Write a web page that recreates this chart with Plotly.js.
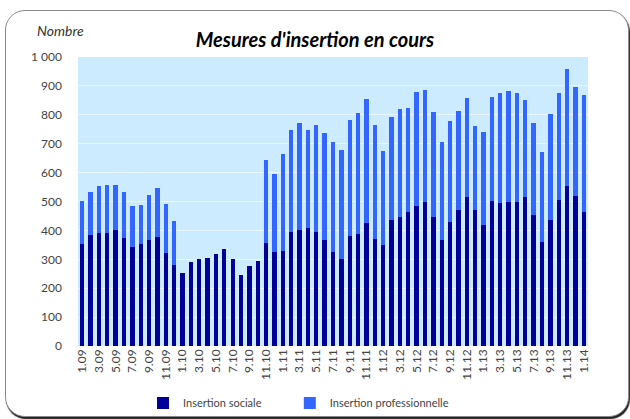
<!DOCTYPE html>
<html>
<head>
<meta charset="utf-8">
<script src="https://cdn.plot.ly/plotly-3.0.1.min.js"></script>
<style>
html,body{margin:0;padding:0;background:#fff;overflow:hidden;}
#frame{position:absolute;left:5px;top:10px;width:622px;height:405px;border:1px solid #8a8a8a;border-radius:20px;box-shadow:1px 2px 1px #222;background:#fff;}
#chart{position:absolute;left:0;top:0;width:630px;height:419px;}
</style>
</head>
<body>
<div id="frame"></div>
<div id="chart"></div>
<script>
const months = ["1.09","2.09","3.09","4.09","5.09","6.09","7.09","8.09","9.09","10.09","11.09","12.09",
"1.10","2.10","3.10","4.10","5.10","6.10","7.10","8.10","9.10","10.10","11.10","12.10",
"1.11","2.11","3.11","4.11","5.11","6.11","7.11","8.11","9.11","10.11","11.11","12.11",
"1.12","2.12","3.12","4.12","5.12","6.12","7.12","8.12","9.12","10.12","11.12","12.12",
"1.13","2.13","3.13","4.13","5.13","6.13","7.13","8.13","9.13","10.13","11.13","12.13",
"1.14"];
const tickLabels = ["1.09","3.09","5.09","7.09","9.09","11.09","1.10","3.10","5.10","7.10","9.10","11.10",
"1.11","3.11","5.11","7.11","9.11","11.11","1.12","3.12","5.12","7.12","9.12","11.12",
"1.13","3.13","5.13","7.13","9.13","11.13","1.14"];
const sociale = [352,384,392,392,401,375,343,354,367,378,323,281,
252,292,300,304,319,335,301,247,277,293,
356,324,330,393,400,410,396,367,327,301,382,
389,425,371,350,437,448,462,486,500,448,367,428,469,515,472,
420,502,496,500,500,514,455,361,437,506,555,518,464];
const professionnelle = [150,148,161,165,156,158,142,134,155,169,169,152,
0,0,0,0,0,0,0,0,0,0,
287,272,335,355,372,338,369,371,378,376,401,
416,431,394,325,356,373,362,394,386,360,338,351,345,344,290,
319,359,379,382,377,338,317,309,367,371,404,377,405];
const yTicks = [0,100,200,300,400,500,600,700,800,900,1000];

const FONT = "Lato, 'Open Sans', sans-serif";
const traces = [
  {type:'bar', name:'Insertion sociale', x:months, y:sociale, marker:{color:'#000099'}, legend:'legend'},
  {type:'bar', name:'Insertion professionnelle', x:months, y:professionnelle, marker:{color:'#3366FF'}, legend:'legend2'}
];
const legendBase = {orientation:'h', xref:'container', yref:'container', xanchor:'left', y:0.038, yanchor:'middle',
    font:{size:11, color:'#444'}, itemwidth:30, bgcolor:'rgba(0,0,0,0)'};
const layout = {
  width:630, height:419,
  margin:{l:78, r:42, t:57, b:73, pad:0},
  paper_bgcolor:'rgba(0,0,0,0)',
  plot_bgcolor:'#CCEBFF',
  barmode:'stack',
  bargap:0.48,
  separators:', ',
  font:{family:FONT, color:'#333', size:12},
  title:{text:"<b><i>Mesures d'insertion en cours</i></b>", x:0.5, xanchor:'center', y:0.905, yanchor:'middle', font:{family:FONT, size:20, color:'#000'}},
  xaxis:{type:'category', tickmode:'array', tickvals:tickLabels, ticktext:tickLabels, tickangle:-90,
    showgrid:false, ticks:'', showline:false, tickfont:{size:12, color:'#444'}, automargin:false},
  yaxis:{range:[0,1000], tickmode:'array', tickvals:yTicks, tickformat:',d', showgrid:true,
    gridcolor:'rgba(255,255,255,0.55)', gridwidth:1, zeroline:false, ticks:'', ticklabelstandoff:15,
    tickfont:{size:12, color:'#444'}, automargin:false},
  showlegend:true,
  legend:Object.assign({}, legendBase, {x:0.227}),
  legend2:Object.assign({}, legendBase, {x:0.460}),
  annotations:[{text:'<i>Nombre</i>', xref:'paper', yref:'paper', x:-0.085, y:1.09, xanchor:'left', yanchor:'middle',
    showarrow:false, font:{family:FONT, size:14, color:'#333'}}]
};
Plotly.newPlot('chart', traces, layout, {displayModeBar:false, staticPlot:true});
</script>
</body>
</html>
